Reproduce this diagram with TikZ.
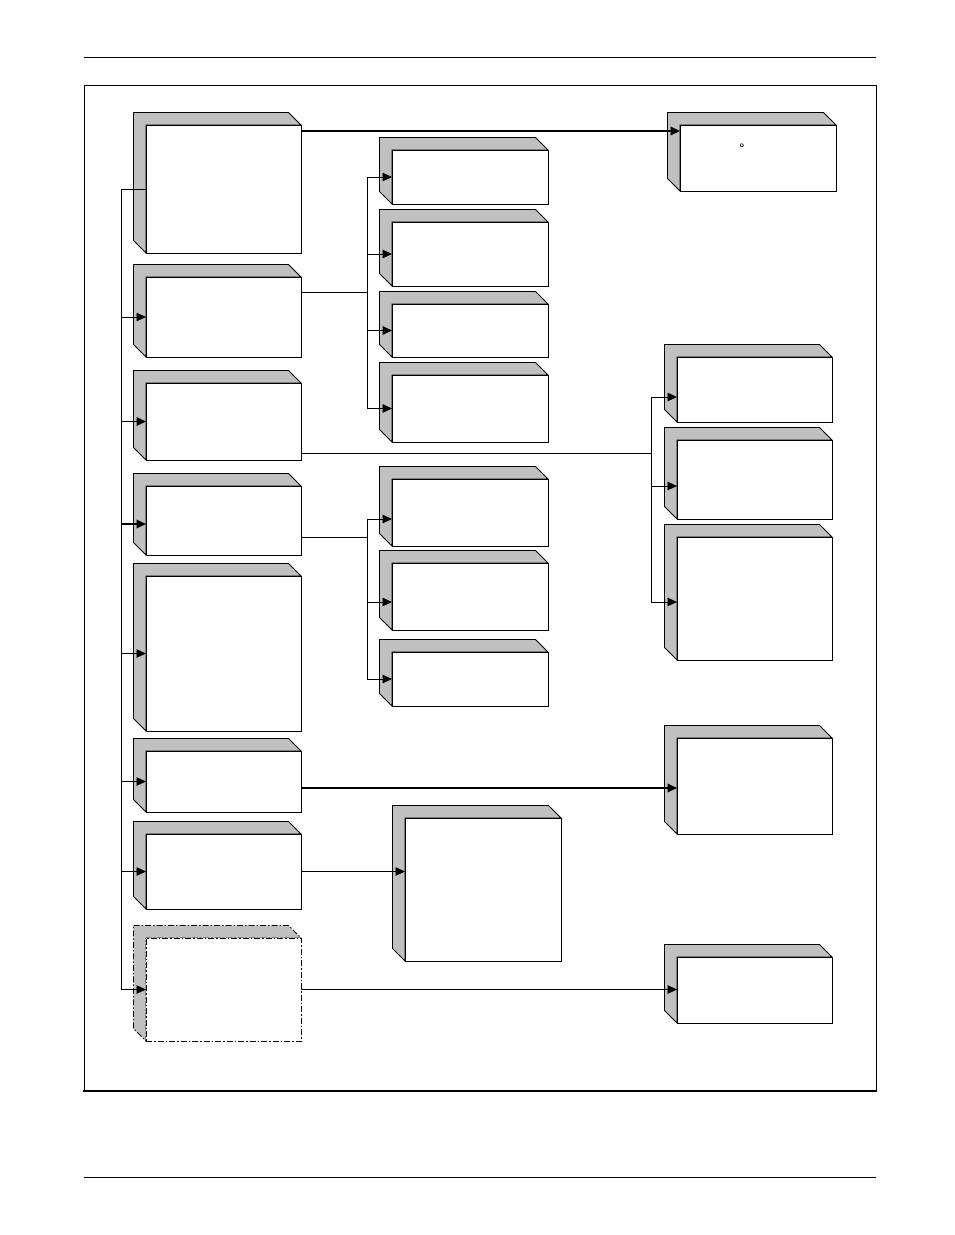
\documentclass[tikz,border=0pt]{standalone}
\usepackage{xcolor}
\usetikzlibrary{arrows.meta,positioning}
\definecolor{bevelgray}{RGB}{192,192,192}
\tikzset{
  dashdot/.style={dash pattern=on 6pt off 2pt on 1.5pt off 2pt},
  bevel/.style={draw, fill=bevelgray, line width=0.8pt},
  cube/.style={draw, fill=white, line width=0.8pt, inner sep=0pt, outer sep=0pt,
    append after command={\pgfextra{\draw[bevel,#1]
      ([shift={(-12.5pt,12.5pt)}]\tikzlastnode.north west) -- ([shift={(-12.5pt,12.5pt)}]\tikzlastnode.north east)
      -- (\tikzlastnode.north east) -- (\tikzlastnode.north west) -- (\tikzlastnode.south west)
      -- ([shift={(-12.5pt,12.5pt)}]\tikzlastnode.south west) -- cycle;}}},
  cube/.default={},
  link/.style={->, line width=0.8pt},
  boldlink/.style={->, line width=1.8pt},
}
\begin{document}
\begin{tikzpicture}[x=1pt,y=-1pt,>={Triangle[length=9.5pt,width=8.5pt]}]
\useasboundingbox (0,0) rectangle (954,1235);
% page rules and frame
\draw[line width=0.8pt] (84,57) -- (876,57);
\draw[line width=0.8pt] (84,1177) -- (876,1177);
\draw[line width=0.8pt] (84,1091) -- (84,85) -- (876,85) -- (876,1091);
\draw[line width=2pt] (83,1091) -- (877,1091);

% left column
\node[cube, minimum width=155, minimum height=128] (L1) at (223.5,189) {};
\node[cube, minimum width=155, minimum height=80] (L2) at (223.5,317) {};
\node[cube, minimum width=155, minimum height=77] (L3) at (223.5,421.5) {};
\node[cube, minimum width=155, minimum height=69] (L4) at (223.5,520.5) {};
\node[cube, minimum width=155, minimum height=155] (L5) at (223.5,653.5) {};
\node[cube, minimum width=155, minimum height=61] (L6) at (223.5,781.5) {};
\node[cube, minimum width=155, minimum height=75] (L7) at (223.5,871.5) {};
\node[cube=dashdot, dashdot, minimum width=155, minimum height=103] (L8) at (223.5,989.5) {};

% middle column
\node[cube, minimum width=156, minimum height=54] (m1) at (470,177) {};
\node[cube, minimum width=156, minimum height=64] (m2) at (470,254) {};
\node[cube, minimum width=156, minimum height=53] (m3) at (470,330.5) {};
\node[cube, minimum width=156, minimum height=67] (m4) at (470,408.5) {};
\node[cube, minimum width=156, minimum height=67] (m5) at (470,512.5) {};
\node[cube, minimum width=156, minimum height=67] (m6) at (470,596.5) {};
\node[cube, minimum width=156, minimum height=54] (m7) at (470,679) {};
\node[cube, minimum width=156, minimum height=143] (big) at (483,889.5) {};

% right column
\node[cube, minimum width=156, minimum height=66] (r0) at (758,158) {};
\node[font=\fontsize{7.5}{7.5}\selectfont\sffamily\bfseries] (mark) at (742,145.5) {o};
\node[cube, minimum width=155, minimum height=65] (r1) at (754.5,389.5) {};
\node[cube, minimum width=155, minimum height=79] (r2) at (754.5,479.5) {};
\node[cube, minimum width=155, minimum height=123] (r3) at (754.5,598.5) {};
\node[cube, minimum width=155, minimum height=96] (r4) at (754.5,786) {};
\node[cube, minimum width=155, minimum height=66] (r5) at (754.5,990) {};

% left spine
\coordinate (spL) at (121,189);
\draw[line width=0.8pt] (spL) -- (L1.west);
\draw[line width=0.8pt] (spL) -- (spL |- L8.west);
\foreach \b in {L2,L5,L6,L7,L8}
  \draw[link] (spL |- \b.west) -- (\b.west);
\draw[boldlink] (spL |- L3.west) -- (L3.west);
\coordinate (a4) at ([yshift=-3.5pt]L4.west);
\draw[boldlink] (spL |- a4) -- (a4);

% top line
\coordinate (t1) at ([yshift=-6pt]L1.north east);
\draw[boldlink] (t1) -- (t1 -| r0.west);

% L2 to upper middle group
\coordinate (t2) at ([yshift=-15pt]L2.north east);
\coordinate (spM) at (367,292);
\draw[line width=0.8pt] (t2) -- (spM);
\draw[line width=0.8pt] (spM |- m1.west) -- (spM |- m4.west);
\foreach \b in {m1,m2,m4}
  \draw[link] (spM |- \b.west) -- (\b.west);
\draw[boldlink] (spM |- m3.west) -- (m3.west);

% L3 to right group
\coordinate (t3) at ([yshift=7pt]L3.south east);
\coordinate (spR) at (651,453);
\coordinate (a1) at ([yshift=-7.5pt]r1.west);
\coordinate (a2) at ([yshift=-6.5pt]r2.west);
\coordinate (a3) at ([yshift=-3.5pt]r3.west);
\draw[line width=0.8pt] (t3) -- (spR);
\draw[line width=0.8pt] (spR |- a1) -- (spR |- a3);
\foreach \a in {a1,a2,a3}
  \draw[link] (spR |- \a) -- (\a);

% L4 to lower middle group
\coordinate (t4) at ([yshift=18pt]L4.south east);
\coordinate (spN) at (367,537);
\coordinate (a5) at ([yshift=-6.5pt]m5.west);
\coordinate (a6) at ([yshift=-5.5pt]m6.west);
\draw[line width=0.8pt] (t4) -- (spN);
\draw[line width=0.8pt] (spN |- a5) -- (spN |- m7.west);
\foreach \a in {a5,a6,m7.west}
  \draw[link] (spN |- \a) -- (\a);

% single links
\coordinate (t6) at ([yshift=-6.5pt]L6.east);
\draw[boldlink] (t6) -- (t6 -| r4.west);
\draw[link] (L7.east) -- (L7.east -| big.west);
\draw[link] (L8.east) -- (L8.east -| r5.west);
\end{tikzpicture}
\end{document}
